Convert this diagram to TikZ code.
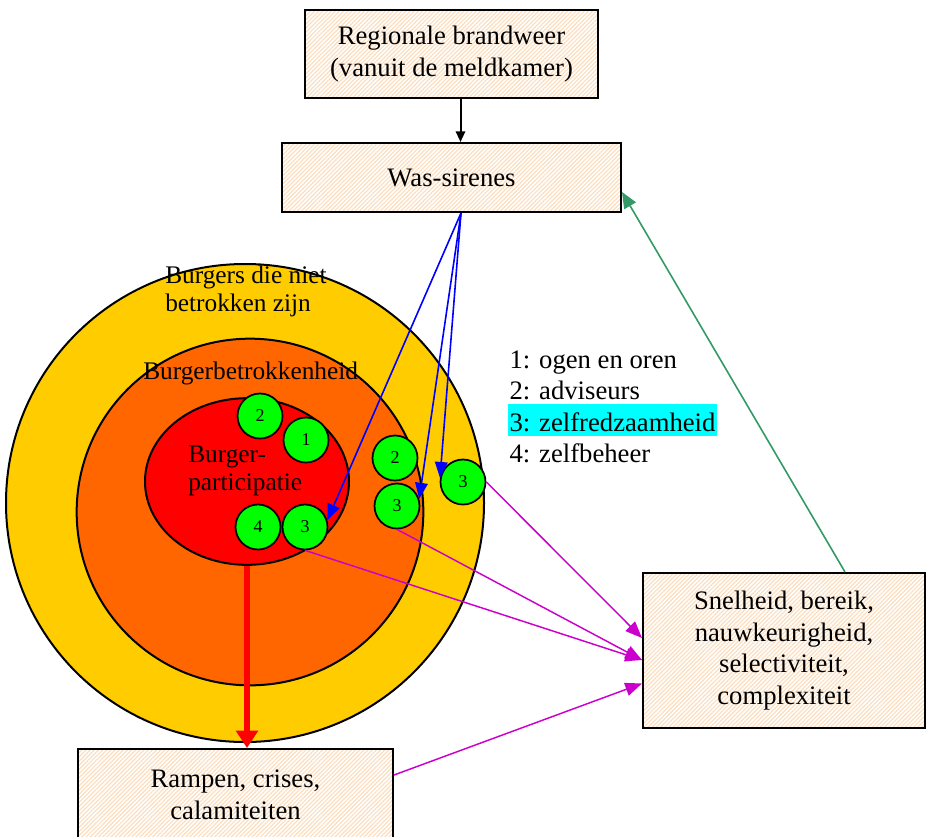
\documentclass[tikz,border=0pt]{standalone}
\usepackage{fontspec}
\setmainfont{Liberation Serif}
\usetikzlibrary{arrows.meta,shapes.geometric,patterns.meta,calc}

\definecolor{outerring}{HTML}{FFCC00}
\definecolor{midring}{HTML}{FF6600}
\definecolor{core}{HTML}{FF0000}
\definecolor{dot}{HTML}{00FF00}
\definecolor{hatch}{RGB}{253,222,190}
\definecolor{bluearrow}{HTML}{0000FF}
\definecolor{magarrow}{HTML}{CC00CC}
\definecolor{greenarrow}{HTML}{339966}
\definecolor{mark}{HTML}{00FFFF}

\tikzset{
  box/.style={draw=black, line width=1.5pt, align=center, inner sep=0pt,
    preaction={fill=white},
    pattern={Lines[angle=45,distance=2.2pt,line width=0.9pt]},
    pattern color=hatch,
    font=\fontsize{20}{23.8}\selectfont},
  dotnode/.style={circle, draw=black, line width=1.3pt, fill=dot,
    minimum size=33.75pt, inner sep=0pt, font=\fontsize{13.5}{15}\selectfont},
  ringlabel/.style={anchor=west, align=left, inner sep=0pt,
    font=\fontsize{19}{21}\selectfont},
  legendline/.style={anchor=west, inner xsep=1pt, inner ysep=0pt,
    text height=20.5pt, text depth=3.5pt, font=\fontsize{20}{24}\selectfont},
  bluelink/.style={draw=bluearrow, line width=1.2pt,
    -{Triangle[length=12pt,width=9.5pt]}},
  maglink/.style={draw=magarrow, line width=1.1pt,
    -{Triangle[length=12.5pt,width=10pt]}},
}

\begin{document}
\begin{tikzpicture}[x=0.75pt,y=-0.75pt]
\useasboundingbox (0,0) rectangle (927,836);

% nested rings
\node[circle, draw=black, line width=1.5pt, fill=outerring,
      minimum size=358.5pt, inner sep=0pt] (outer) at (245,503) {};
\node[circle, draw=black, line width=1.5pt, fill=midring,
      minimum size=260pt, inner sep=0pt] (mid) at (250,512) {};
\node[ellipse, draw=black, line width=1.5pt, fill=core,
      minimum width=153pt, minimum height=125pt, inner sep=0pt] (inner) at (247,481.5) {};

% ring labels
\node[ringlabel] (lblouter) at (165,291) {Burgers die niet\\betrokken zijn};
\node[ringlabel] (lblmid) at (143,373) {Burgerbetrokkenheid};
\node[ringlabel] (lblinner) at (188,471) {Burger-\\participatie};

% numbered roles
\node[dotnode] (g2a) at (260,416) {2};
\node[dotnode] (g1)  at (306,440) {1};
\node[dotnode] (g4)  at (258,527) {4};
\node[dotnode] (g3a) at (305,527) {3};
\node[dotnode] (g2b) at (395,458) {2};
\node[dotnode] (g3b) at (397,506) {3};
\node[dotnode] (g3c) at (463,482) {3};

% boxes
\node[box, minimum width=219.75pt, minimum height=66pt] (reg) at (451.5,54)
  {Regionale brandweer\\(vanuit de meldkamer)};
\node[box, minimum width=254.25pt, minimum height=51.75pt] (was) at (451.5,177.5)
  {Was-sirenes};
\node[box, minimum width=211.5pt, minimum height=116.25pt] (snel) at (784,650.5)
  {Snelheid, bereik,\\nauwkeurigheid,\\selectiviteit,\\complexiteit};
\node[box, minimum width=236.25pt, minimum height=68.25pt] (ramp) at (235.5,794.5)
  {Rampen, crises,\\calamiteiten};

% legend
\node[legendline] (leg1) at (508,357) {1: ogen en oren};
\node[legendline] (leg2) at (508,388.5) {2: adviseurs};
\node[legendline, fill=mark] (leg3) at (508,420) {3: zelfredzaamheid};
\node[legendline] (leg4) at (508,451.5) {4: zelfbeheer};

% connectors
\draw[line width=1.5pt, -{Triangle[length=8pt,width=7pt]}]
  ($(reg.south)+(9,0)$) -- ($(was.north)+(9,0)$);

\draw[bluelink] ($(was.south)+(9.5,0)$) -- (g3a.17);
\draw[bluelink] ($(was.south)+(9.5,0)$) -- (g3b.18);
\draw[bluelink] ($(was.south)+(9.5,0)$) -- (g3c.170);

\draw[maglink] (g3c.east) -- ($(snel.west)+(0,-12.5)$);
\draw[maglink] (g3b.south) -- ($(snel.west)+(0,9.5)$);
\draw[maglink] (g3a.south) -- ($(snel.west)+(0,9.5)$);
\draw[maglink] ($(ramp.east)+(0,-19.5)$) -- ($(snel.west)+(0,33)$);

\draw[draw=greenarrow, line width=1.2pt, -{Triangle[length=12pt,width=10pt]}]
  ($(snel.north)+(61,0)$) -- ($(was.east)+(0,14.5)$);

\draw[draw=core, line width=3.8pt, -{Triangle[length=13pt,width=16pt]}]
  (inner.south) -- (inner.south |- ramp.north);
\end{tikzpicture}
\end{document}
